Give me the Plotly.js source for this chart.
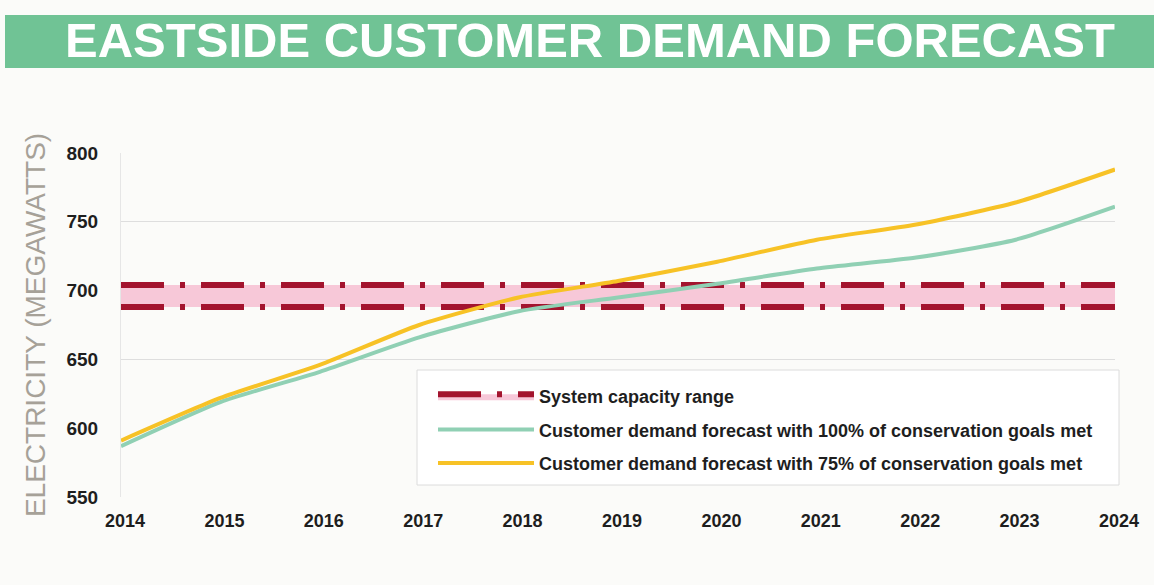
<!DOCTYPE html>
<html>
<head>
<meta charset="utf-8">
<script src="https://cdn.plot.ly/plotly-3.0.1.min.js"></script>
<style>
  html, body { margin: 0; padding: 0; background: #fbfbf9; }
  #chart { width: 1154px; height: 585px; }
</style>
</head>
<body>
<div id="chart"></div>
<script>
// ---- data ----
const years = [2014, 2015, 2016, 2017, 2018, 2019, 2020, 2021, 2022, 2023, 2024];
const demand100 = [587, 619, 641, 666, 685, 695, 705, 716, 724, 737, 761];
const demand75  = [591, 622, 646, 675, 695, 707, 721, 737, 748, 764, 788];
const capacityLow  = [688, 688, 688, 688, 688, 688, 688, 688, 688, 688, 688];
const capacityHigh = [704, 704, 704, 704, 704, 704, 704, 704, 704, 704, 704];
const yTicks = [550, 600, 650, 700, 750, 800];
const xTicks = years;

const seriesNames = [
  'System capacity range',
  'Customer demand forecast with 100% of conservation goals met',
  'Customer demand forecast with 75% of conservation goals met'
];
const chartTitle = 'EASTSIDE CUSTOMER DEMAND FORECAST';
const yTitle = 'ELECTRICITY (MEGAWATTS)';

// ---- styles ----
const capColor = '#a3142e';
const bandColor = 'rgba(246,190,210,0.85)';
const greenColor = '#90d0b4';
const yellowColor = '#f7c226';
const capDash = '43px,16px,5px,16px';

const traces = [
  {
    x: years, y: capacityLow, mode: 'lines', name: seriesNames[0],
    line: { color: capColor, width: 6, dash: capDash },
    showlegend: false, legendgroup: 'g1', hoverinfo: 'skip'
  },
  {
    x: years, y: capacityHigh, mode: 'lines', name: seriesNames[0],
    fill: 'tonexty', fillcolor: bandColor,
    line: { color: capColor, width: 6, dash: capDash },
    legendgroup: 'g1'
  },
  {
    x: years, y: demand100, mode: 'lines', name: seriesNames[1],
    line: { color: greenColor, width: 4, shape: 'spline', smoothing: 0.6 },
    legendgroup: 'g2'
  },
  {
    x: years, y: demand75, mode: 'lines', name: seriesNames[2],
    line: { color: yellowColor, width: 4, shape: 'spline', smoothing: 0.6 },
    legendgroup: 'g3'
  }
];

const L = 121, T = 153, W = 994, H = 344;
const px2x = p => (p - L) / W;
const px2y = p => (T + H - p) / H;

const layout = {
  width: 1154, height: 585,
  margin: { l: L, r: 1154 - L - W, t: T, b: 585 - T - H },
  paper_bgcolor: '#fbfbf9',
  plot_bgcolor: '#fbfbf9',
  font: { family: 'Liberation Sans, Arial, sans-serif', color: '#1e1e1e' },
  title: {
    text: '<b>' + chartTitle + '</b>',
    font: { family: 'Liberation Sans, Arial, sans-serif', size: 49, color: '#ffffff' },
    x: 590 / 1154, xanchor: 'center', xref: 'container',
    y: 1 - 40 / 585, yanchor: 'middle', yref: 'container'
  },
  shapes: [
    {
      type: 'rect', xref: 'paper', yref: 'paper', layer: 'below',
      x0: px2x(5), x1: px2x(1160), y0: px2y(68), y1: px2y(15),
      fillcolor: '#70c395', line: { width: 0 }
    },
    {
      type: 'rect', xref: 'paper', yref: 'paper', layer: 'below',
      x0: px2x(417), x1: px2x(1119), y0: px2y(485), y1: px2y(370),
      fillcolor: '#ffffff', line: { width: 1, color: '#dcdcdc' }
    }
  ],
  xaxis: {
    range: [2014, 2024],
    tickvals: xTicks,
    ticktext: xTicks.map(String),
    showgrid: false, zeroline: false, showline: false,
    ticks: '', ticklabelstandoff: 11, ticklabelshift: 4,
    tickfont: { size: 18, color: '#1e1e1e', family: 'Liberation Sans, Arial, sans-serif', weight: 'bold' },
    fixedrange: true
  },
  yaxis: {
    range: [550, 800],
    tickvals: yTicks,
    showgrid: false, zeroline: false,
    showline: true, linecolor: '#e6e6e6', linewidth: 1,
    ticks: '', ticklabelstandoff: 18,
    tickfont: { size: 19, color: '#1e1e1e', family: 'Liberation Sans, Arial, sans-serif', weight: 'bold' },
    minor: { tickvals: [550, 650, 750], showgrid: true, gridcolor: '#dedede', gridwidth: 1, ticks: '' },
    title: {
      text: yTitle, standoff: 12,
      font: { size: 28, color: '#a6a198', family: 'Liberation Sans, Arial, sans-serif' }
    },
    fixedrange: true
  },
  legend: {
    x: px2x(433), y: px2y(378), xanchor: 'left', yanchor: 'top',
    bgcolor: 'rgba(0,0,0,0)', borderwidth: 0,
    font: { size: 18, color: '#1e1e1e', family: 'Liberation Sans, Arial, sans-serif', weight: 'bold' },
    itemwidth: 96,
    traceorder: 'grouped', tracegroupgap: 7
  },
  showlegend: true,
  hovermode: false
};

Plotly.newPlot('chart', traces, layout, { displayModeBar: false, staticPlot: true });
</script>
</body>
</html>
